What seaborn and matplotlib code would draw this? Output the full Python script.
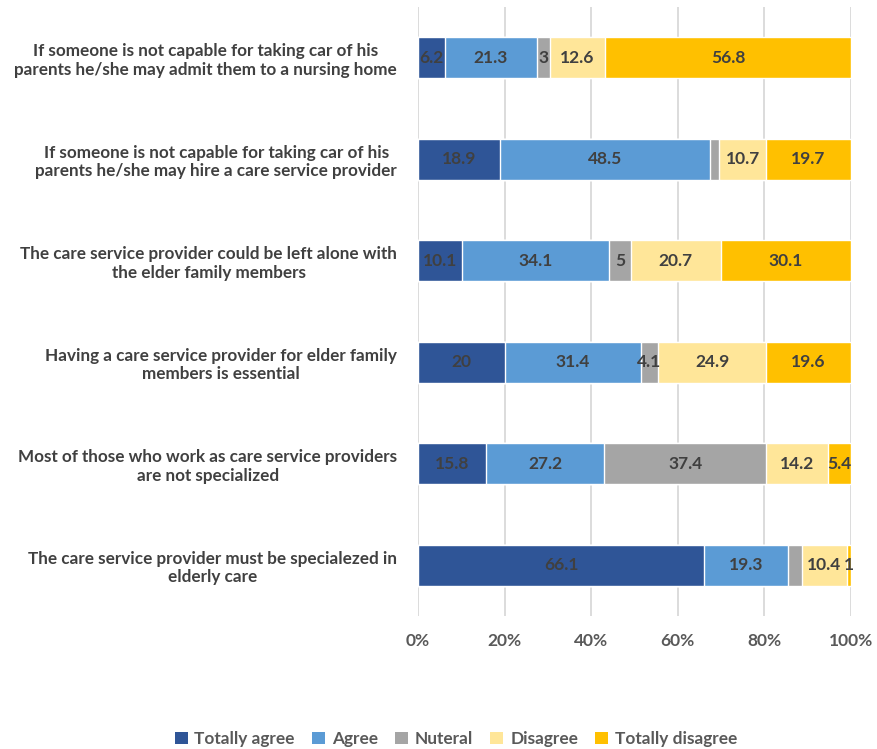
import matplotlib
matplotlib.use("Agg")
import matplotlib.pyplot as plt
import seaborn as sns
import pandas as pd
import numpy as np
from matplotlib.patches import Patch

statements = [
    "If someone is not capable for taking car of his\nparents he/she may admit them to a nursing home",
    "If someone is not capable for taking car of his\nparents he/she may hire a care service provider",
    "The care service provider could be left alone with\nthe elder family members",
    "Having a care service provider for elder family\nmembers is essential",
    "Most of those who work as care service providers\nare not specialized",
    "The care service provider must be specialezed in\nelderly care",
]
series_names = ["Totally agree", "Agree", "Nuteral", "Disagree", "Totally disagree"]
totally_agree = [6.2, 18.9, 10.1, 20, 15.8, 66.1]
agree = [21.3, 48.5, 34.1, 31.4, 27.2, 19.3]
neutral = [3, 2.2, 5, 4.1, 37.4, 3.2]
disagree = [12.6, 10.7, 20.7, 24.9, 14.2, 10.4]
totally_disagree = [56.8, 19.7, 30.1, 19.6, 5.4, 1]
# labels that are not printed in the reference (tiny segments)
hidden = {(2, 1), (2, 5)}  # (series index, row index)

colors = ["#2F5597", "#5B9BD5", "#A5A5A5", "#FFE699", "#FFC000"]
tick_vals = [0, 20, 40, 60, 80, 100]

sns.set_theme(style="white")
plt.rcParams["font.family"] = ["Lato", "DejaVu Sans"]

series = [totally_agree, agree, neutral, disagree, totally_disagree]
vals = np.array(series, dtype=float)
totals = vals.sum(axis=0)
pct = vals / totals * 100
cum = np.cumsum(pct, axis=0)

fig = plt.figure(figsize=(8.77, 7.49), dpi=100)
ax = fig.add_axes([418 / 877, 1 - 616 / 749, 433 / 877, 609 / 749])

for i in range(len(series) - 1, -1, -1):
    df = pd.DataFrame({"statement": statements, "cum": cum[i]})
    sns.barplot(data=df, y="statement", x="cum", color=colors[i], orient="h",
                width=0.4, ax=ax, saturation=1, zorder=3)

for i in range(len(series)):
    for r in range(len(statements)):
        if (i, r) in hidden:
            continue
        center = cum[i][r] - pct[i][r] / 2
        v = series[i][r]
        txt = f"{v:g}"
        ax.text(center, r, txt, ha="center", va="center", fontsize=12.5,
                fontweight="bold", color="#404040", zorder=5)

ax.set_xlim(0, 100)
ax.set_xticks(tick_vals)
ax.set_xticklabels([f"{t}%" for t in tick_vals], fontsize=12.5, fontweight="bold",
                   color="#595959")
ax.xaxis.grid(True, color="#D9D9D9", linewidth=1.3, zorder=0)
ax.set_axisbelow(True)
ax.set_xlabel("")
ax.set_ylabel("")
for s in ax.spines.values():
    s.set_visible(False)
ax.tick_params(axis="x", length=0, pad=12)
ax.tick_params(axis="y", length=0, pad=15)
ax.set_yticks(range(len(statements)))
ax.set_yticklabels(statements, fontsize=12.3, fontweight="bold", color="#404040",
                   multialignment="center")

handles = [Patch(facecolor=c, edgecolor="none") for c in colors]
fig.legend(handles, series_names, loc="center", bbox_to_anchor=(456 / 877, 1 - 739 / 749),
           ncol=5, frameon=False, handlelength=0.75, handleheight=0.75,
           columnspacing=1.0, handletextpad=0.4,
           prop={"weight": "bold", "size": 12.4})
for t in fig.legends[0].get_texts():
    t.set_color("#595959")

fig.savefig("out.png", dpi=100)
